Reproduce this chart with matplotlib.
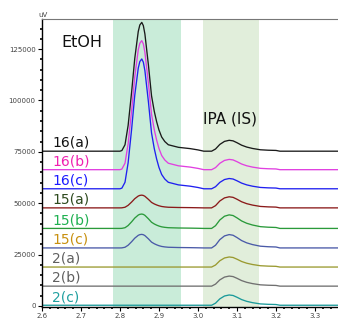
import matplotlib
matplotlib.use("Agg")
import matplotlib.pyplot as plt
import numpy as np
from matplotlib.ticker import MultipleLocator

# retention time (min)
time = [2.60, 2.80, 2.805, 2.813, 2.821, 2.830, 2.838, 2.847, 2.851, 2.856,
        2.860, 2.864, 2.873, 2.881, 2.888, 2.894, 2.900, 2.907, 2.915, 2.924,
        2.95, 2.98, 3.00, 3.015, 3.035, 3.045, 3.056, 3.068, 3.08, 3.09,
        3.10, 3.112, 3.125, 3.14, 3.16, 3.18, 3.20, 3.21, 3.36]
etoh_shape = [0, 0, 0.005, 0.05, 0.2, 0.46, 0.72, 0.93, 0.98, 1.0,
              0.975, 0.91, 0.67, 0.43, 0.31, 0.23, 0.165, 0.11, 0.075, 0.05,
              0.03, 0.02, 0.01, 0, 0, 0, 0, 0, 0, 0,
              0, 0, 0, 0, 0, 0, 0, 0, 0]
# IPA peak shape (relative to its top)
ipa_shape = [0, 0, 0, 0, 0, 0, 0, 0, 0, 0,
             0, 0, 0, 0, 0, 0, 0, 0, 0, 0,
             0, 0, 0, 0, 0, 0.2, 0.62, 0.9, 1.0, 0.95,
             0.78, 0.55, 0.38, 0.25, 0.13, 0.09, 0.07, 0, 0]

labels = ["16(a)", "16(b)", "16(c)", "15(a)", "15(b)", "15(c)", "2(a)", "2(b)", "2(c)"]
baseline = [75300, 66300, 57000, 47700, 37700, 28200, 18900, 9600, 300]
etoh_height = [62700, 62800, 63200, 6200, 7000, 6600, 0, 0, 0]
ipa_height = [5300, 5000, 5000, 5400, 6600, 6500, 4900, 4900, 5000]

line_colors = ["#1a1a1a", "#e040e0", "#2020f0", "#8b1a1a", "#2a9a3a",
               "#4a5aa8", "#9a9a30", "#707070", "#1a9a9a"]
text_colors = ["#111111", "#f020b0", "#1a1aff", "#2e4a1e", "#1fb050",
               "#c89010", "#606060", "#606060", "#20a0a0"]

t = np.array(time)
e = np.array(etoh_shape)
p = np.array(ipa_shape)

fig = plt.figure(figsize=(3.38, 3.24), dpi=100)
ax = fig.add_axes([0.124, 0.052, 0.876, 0.889])

# peak windows
ax.axvspan(2.782, 2.956, color="#c9ecd9", zorder=0, lw=0)
ax.axvspan(3.013, 3.156, color="#e1eedb", zorder=0, lw=0)

for i in range(len(labels)):
    y = baseline[i] + etoh_height[i] * e + ipa_height[i] * p
    ax.plot(t, y, color=line_colors[i], lw=0.95, zorder=2)
    ax.text(2.626, baseline[i] + 600, labels[i], color=text_colors[i],
            fontsize=10, ha="left", va="bottom", zorder=3)

ax.text(2.651, 128400, "EtOH", fontsize=11.5, ha="left", va="center", color="#111111")
ax.text(3.013, 90900, "IPA (IS)", fontsize=11, ha="left", va="center", color="#111111")

ax.set_xlim(2.6, 3.359)
ax.set_ylim(-630, 139600)

ax.xaxis.set_major_locator(MultipleLocator(0.1))
ax.xaxis.set_minor_locator(MultipleLocator(0.02))
ax.yaxis.set_major_locator(MultipleLocator(25000))
ax.yaxis.set_minor_locator(MultipleLocator(5000))
ax.xaxis.set_major_formatter(plt.FuncFormatter(lambda v, pos: f"{v:.1f}"))
ax.yaxis.set_major_formatter(plt.FuncFormatter(lambda v, pos: f"{int(v)}"))

ax.tick_params(which="major", length=3, width=0.8, labelsize=5, labelcolor="#444444", pad=1.5)
ax.tick_params(which="minor", length=1.2, width=1.2)

ax.spines["right"].set_visible(False)
ax.spines["top"].set_color("#777777")
ax.spines["top"].set_linewidth(0.8)
ax.spines["left"].set_linewidth(1.0)
ax.spines["bottom"].set_linewidth(1.0)

fig.text(0.113, 0.955, "uV", fontsize=5, color="#444444", ha="left", va="center")

fig.savefig("out.png", dpi=100)
